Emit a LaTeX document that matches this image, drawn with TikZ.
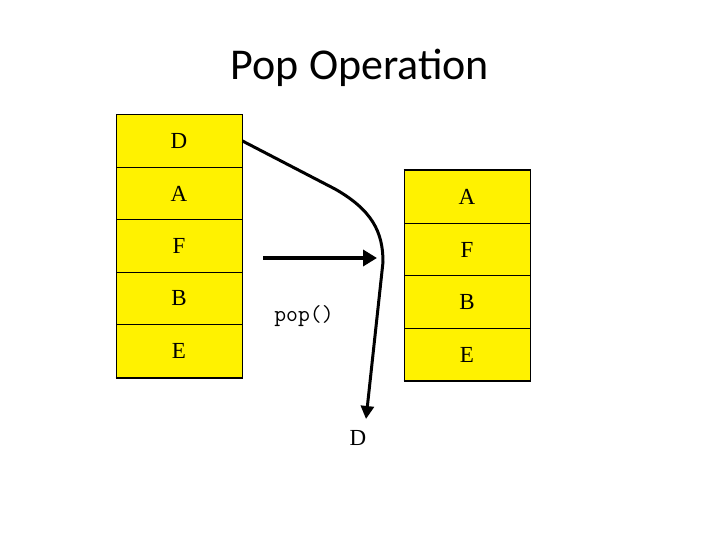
\documentclass[tikz,border=0pt]{standalone}
\usepackage{fontspec}
\setmainfont{Liberation Serif}
\newfontfamily\titlefont{Carlito}
\usetikzlibrary{arrows.meta}
\tikzset{
  cell/.style={draw=black, line width=1pt, fill=yellow, minimum width=126pt, minimum height=52.5pt, inner sep=0pt, font=\fontsize{23}{23}\selectfont},
  flow/.style={line width=3pt, -{Triangle[length=13pt,width=13pt]}},
  lab/.style={inner sep=0pt}
}
\begin{document}
\begin{tikzpicture}[x=1pt,y=-1pt]
\useasboundingbox (0,0) rectangle (720,540);
\node[lab, font=\titlefont\fontsize{44}{44}\selectfont] (title) at (360,68) {Pop Operation};
% left stack
\node[cell] (LD) at (179,141) {D};
\node[cell] (LA) at (179,193.5) {A};
\node[cell] (LF) at (179,246) {F};
\node[cell] (LB) at (179,298.5) {B};
\node[cell] (LE) at (179,351) {E};
\draw[line width=2pt] (LE.south west) -- (LE.south east);
% right stack
\node[cell] (RA) at (467,197) {A};
\node[cell] (RF) at (467,249.5) {F};
\node[cell] (RB) at (467,302) {B};
\node[cell] (RE) at (467,354.5) {E};
\draw[line width=2pt] (RA.north west) -- (RA.north east);
\draw[line width=2pt] (RE.south west) -- (RE.south east);
% arrows
\coordinate (hs) at (263,258);
\coordinate (he) at (377,258);
\draw[line width=4pt, -{Triangle[length=14pt,width=16pt]}] (hs) -- (he);
\node[lab, font=\ttfamily\fontsize{23}{23}\selectfont] (pop) at (304,316) {pop()};
\node[lab, font=\fontsize{23}{23}\selectfont] (out) at (358,438) {D};
\coordinate (cs) at (LD.east);
\coordinate (ce) at (366,419);
\draw[flow] (cs) -- (335,189) .. controls (372,210) and (383,232) .. (383,262) -- (ce);
\end{tikzpicture}
\end{document}
